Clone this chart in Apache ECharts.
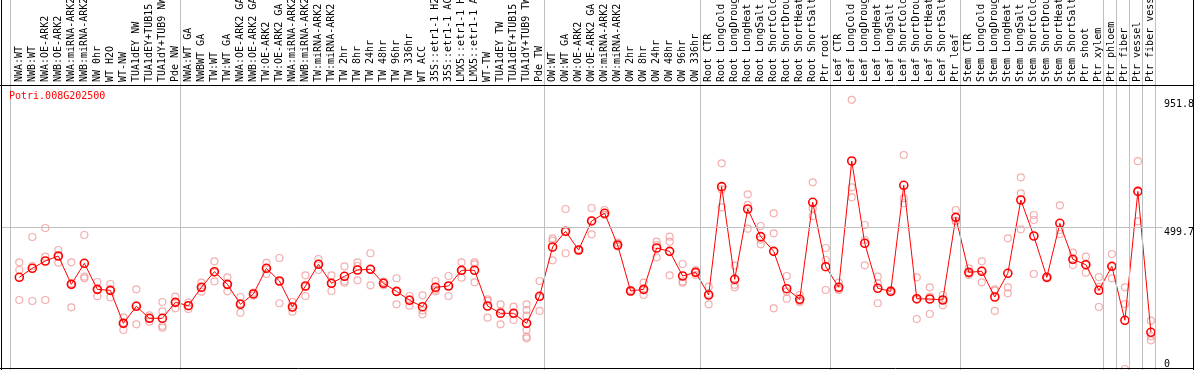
<!DOCTYPE html>
<html>
<head>
<meta charset="utf-8">
<script src="https://cdn.jsdelivr.net/npm/echarts@6/dist/echarts.min.js"></script>
<style>
html,body{margin:0;padding:0;background:#fff;}
#chart{width:1194px;height:370px;}
</style>
</head>
<body>
<div id="chart"></div>
<script>
const title = 'Potri.008G202500';

const categories = [
  'NWA:WT','NWB:WT','NWA:OE-ARK2','NWB:OE-ARK2','NWA:miRNA-ARK2','NWB:miRNA-ARK2','NW 0hr','WT H2O','WT-NW',
  'TUA1dEY NW','TUA1dEY+TUB15 NW','TUA1dY+TUB9 NW','Pde NW',
  'NWA:WT GA','NWBWT GA','TW:WT','TW:WT GA','NWA:OE-ARK2 GA','NWB:OE-ARK2 GA','TW:OE-ARK2','TW:OE-ARK2 GA',
  'NWA:miRNA-ARK2 GA','NWB:miRNA-ARK2 GA','TW:miRNA-ARK2','TW:miRNA-ARK2 GA',
  'TW 2hr','TW 8hr','TW 24hr','TW 48hr','TW 96hr','TW 336hr','WT ACC',
  '35S::etr1-1 H2O','35S::etr1-1 ACC','LMX5::etr1-1 H2O','LMX5::etr1-1 ACC',
  'WT-TW','TUA1dEY TW','TUA1dEY+TUB15 TW','TUA1dY+TUB9 TW','Pde TW',
  'OW:WT','OW:WT GA','OW:OE-ARK2','OW:OE-ARK2 GA','OW:miRNA-ARK2','OW:miRNA-ARK2 GA',
  'OW 2hr','OW 8hr','OW 24hr','OW 48hr','OW 96hr','OW 336hr',
  'Root CTR','Root LongCold','Root LongDrought','Root LongHeat','Root LongSalt',
  'Root ShortCold','Root ShortDrought','Root ShortHeat','Root ShortSalt','Ptr root',
  'Leaf CTR','Leaf LongCold','Leaf LongDrought','Leaf LongHeat','Leaf LongSalt',
  'Leaf ShortCold','Leaf ShortDrought','Leaf ShortHeat','Leaf ShortSalt','Ptr leaf',
  'Stem CTR','Stem LongCold','Stem LongDrought','Stem LongHeat','Stem LongSalt',
  'Stem ShortCold','Stem ShortDrought','Stem ShortHeat','Stem ShortSalt','Ptr shoot',
  'Ptr xylem','Ptr phloem','Ptr fiber','Ptr vessel','Ptr fiber vessel'
];

const means = [
  324.2,356,381.9,399.6,299.4,373.7,281.7,278.1,161.5,221.7,179.2,179.2,235.7,
  223.9,288.9,344.1,299.4,228.8,265.3,356,311.2,219.2,293.5,370.2,303,
  327.8,350,352.5,303,274.6,242.9,220.3,288.9,293.5,349,349,222.8,197,197,161.5,257,
  431.4,486.9,420.8,523.4,550.6,438.4,275.8,281.7,427.9,416,328.8,341.8,
  261.6,644.7,317.2,565.7,467.9,416,284,246.4,589.4,361.8,
  288.9,735.5,444.4,285.4,274.6,649.6,248.5,247.5,244,536.3,
  341.8,345.5,254.6,338.4,597.6,470.3,324.2,515.2,387.9,368.8,
  278.3,363.1,172.2,628,129.8
];

const replicates = [
  [377.2,350,244],[466.7,364.2,240.4],[498.5,397.1,244],[420.8,399.3,376],[377.2,302.7,218.1],
  [473.8,326.4,320.5],[307.6,280,257.5],[300.5,280,253.4],[182.8,137.9,163.8],[281.7,158.1,225.4],
  [189.9,167.3,179.2],[236.9,204,152,146.1],[255.8,214.5,236.7],
  [234.5,212.2,224.9],[305.3,273.5,287.9],[380.8,310.1,341.2],[324.2,274.6,299.8],[254.6,199.1,232.8],
  [269.8,259.2,266.2],[374.9,335.9,357],[392.5,232.4,308.6],[236.9,202.6,219],[331.3,258.2,290.9],
  [389,350,371.7],[331.3,275.8,302.7],
  [363.1,311.2,305.2],[377.2,364.2,313.6],[409.2,295.8,352],[308.6,295.8,304.7],[320.8,228.8,274.1],
  [258.2,223.9,246.5],[260.6,193.3,207.1],[311.2,274.6,281],[328.8,258.2,293.9],[377.2,322.8,347],
  [377.2,370.2,306.6],[246.4,181.5,240.6],[228.8,158.1,204.2],[220.3,173.2,197.3],
  [228.8,208.6,188.4,137.9,114.2,108.6],[311.2,205.2,254.4],
  [462.2,453.7,384.4],[565.7,409.2,486],[419,423,421],[569.3,476.3,524.5],[562.2,544.6,545.2],
  [446.6,436,432.8],[275.1,273.2,279.1],[305.2,261.6,278.1],[450.2,395,437.7],[467.9,450.2,331.3],
  [371.3,305.2,309.6],[350,332.3,343.1],
  [291,228.8,265.3],[727.4,571.8,634.8],[365.3,288.9,297.8],[617.8,580,496.1],[505.6,441,457.4],
  [550.6,479.8,214.5],[328.8,248.5,274.1],[261.6,236.9,240.6],[660.2,541,566.8],[427.9,385.5,279.4],
  [305.2,279.4,282],[951.8,642.5,607.1],[509.2,456.2,366.7],[326.4,303,232.4],[279,272,273],
  [756.7,603.6,586],[324.2,176.8,244.6],[288.9,255.8,194.5],[261.6,225.3,244.6],[562.2,524.5,522.5],
  [356,332.3,337.2],[380.8,306.6,349],[281.7,205.2,277.1],[462.2,288.9,267.6],[677.9,621.3,494],
  [544.6,526.9,335.9],[326.4,320.5,322.4],[578.9,491.5,477.4],[411.2,367.8,384.5],[397.1,340.6,368.7],
  [325.3,219.2,290.4],[406.6,320.7,362],[288.9,229.8,0],[735,628,522],[170.8,115.6,101.5]
];

const yTicksUpper = [499.7, 951.8];
const yTicksLower = [0];
const yGridValues = [499.7];
const groupBreaks = [0, 13, 41, 53, 63, 73, 84, 85, 86, 87, 88];

const Y_MAX = 1004.2;
const FONT = 'DejaVu Sans Mono';

const repPoints = [];
replicates.forEach((arr, i) => arr.forEach(v => repPoints.push([i, v])));

const chart = echarts.init(document.getElementById('chart'), null, {renderer: 'canvas'});
chart.setOption({
  animation: false,
  backgroundColor: '#fff',
  title: {
    text: title, left: 9, top: 91, padding: 0,
    textStyle: {color: '#ff0000', fontSize: 10, fontWeight: 'normal', fontFamily: FONT}
  },
  grid: [
    {left: 12.8, width: 1144.6, top: 85, bottom: 1, containLabel: false, outerBoundsMode: 'none'},
    {left: 1, right: 31, top: 85, bottom: 1, containLabel: false, outerBoundsMode: 'none'},
    {left: 10.7, width: 1144.6, top: 0, bottom: 0, containLabel: false, outerBoundsMode: 'none'}
  ],
  xAxis: [
    {
      gridIndex: 0, type: 'category', position: 'top', data: categories, boundaryGap: true,
      axisLine: {show: false}, axisTick: {show: false}, splitLine: {show: false},
      axisLabel: {rotate: 90, interval: 0, margin: 3, align: 'left', verticalAlign: 'middle',
        color: '#000', fontSize: 10, fontFamily: FONT}
    },
    {gridIndex: 1, type: 'value', min: 0, max: 1, show: false},
    {gridIndex: 2, type: 'value', min: 0, max: categories.length, show: false}
  ],
  yAxis: [
    {gridIndex: 0, type: 'value', min: 0, max: Y_MAX, show: false},
    {
      gridIndex: 1, type: 'value', min: 0, max: Y_MAX, position: 'right',
      axisLine: {show: false}, axisTick: {show: false}, splitLine: {show: false},
      axisLabel: {customValues: yTicksUpper, verticalAlign: 'top', margin: 1, color: '#000',
        fontSize: 10, fontFamily: FONT, formatter: v => String(v)}
    },
    {
      gridIndex: 1, type: 'value', min: 0, max: Y_MAX, position: 'right',
      axisLine: {show: false}, axisTick: {show: false}, splitLine: {show: false},
      axisLabel: {customValues: yTicksLower, verticalAlign: 'bottom', margin: 1, color: '#000',
        fontSize: 10, fontFamily: FONT, showMinLabel: true, formatter: v => String(v)}
    },
    {gridIndex: 2, type: 'value', min: 0, max: 1, show: false}
  ],
  graphic: [
    {type: 'line', z: 100, shape: {x1: 0, y1: 85.5, x2: 1194, y2: 85.5}, style: {stroke: '#000', lineWidth: 1}},
    {type: 'line', z: 100, shape: {x1: 1.5, y1: 0, x2: 1.5, y2: 370}, style: {stroke: '#000', lineWidth: 1}},
    {type: 'line', z: 100, shape: {x1: 1193.5, y1: 0, x2: 1193.5, y2: 370}, style: {stroke: '#000', lineWidth: 1}},
    {type: 'line', z: 100, shape: {x1: 0, y1: 368.5, x2: 1194, y2: 368.5}, style: {stroke: '#000', lineWidth: 1}}
  ],
  series: [
    {
      type: 'line', xAxisIndex: 2, yAxisIndex: 3, data: [], silent: true,
      markLine: {
        silent: true, symbol: 'none', animation: false, label: {show: false},
        lineStyle: {color: '#c0c0c0', width: 1, type: 'solid'},
        emphasis: {disabled: true},
        data: groupBreaks.map(b => ({xAxis: b}))
      }
    },
    {
      type: 'line', xAxisIndex: 1, yAxisIndex: 1, data: [], silent: true,
      markLine: {
        silent: true, symbol: 'none', animation: false, label: {show: false},
        lineStyle: {color: '#c0c0c0', width: 1, type: 'solid'},
        emphasis: {disabled: true},
        data: yGridValues.map(v => ({yAxis: v}))
      }
    },
    {
      type: 'scatter', xAxisIndex: 0, yAxisIndex: 0, data: repPoints, silent: true,
      symbol: 'circle', symbolSize: 7, clip: true,
      itemStyle: {color: 'rgba(0,0,0,0)', borderColor: '#f09a9a', borderWidth: 1.2}
    },
    {
      type: 'line', xAxisIndex: 0, yAxisIndex: 0, data: means, silent: true,
      symbol: 'circle', symbolSize: 8, showAllSymbol: true,
      lineStyle: {color: '#ff0000', width: 1},
      itemStyle: {color: 'rgba(0,0,0,0)', borderColor: '#ff0000', borderWidth: 1.6}
    }
  ]
});
</script>
</body>
</html>
